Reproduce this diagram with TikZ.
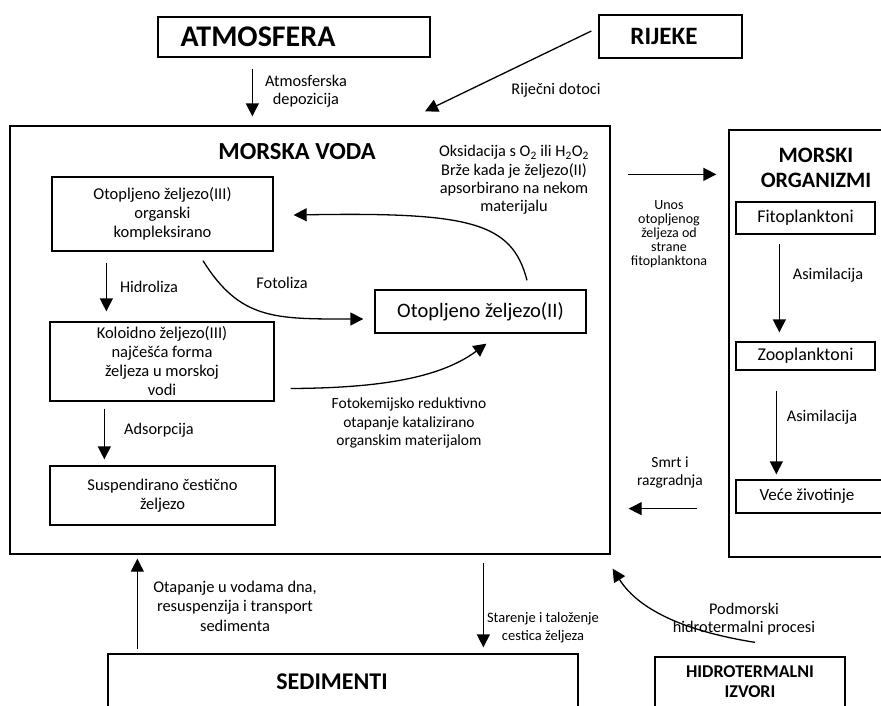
\documentclass[tikz,border=0pt]{standalone}
\usepackage{fontspec}
\setmainfont{Carlito}
\usetikzlibrary{arrows.meta,calc}
\begin{document}
\begin{tikzpicture}[x=1pt,y=-1pt,
  box/.style={draw,line width=1.3pt,inner sep=0pt,align=center},
  boxtext/.style={font=\fontsize{16.5}{19}\selectfont},
  ttl/.style={inner sep=0pt,align=center,font=\bfseries\fontsize{#1}{#1}\selectfont},
  ttl/.default=24,
  lbl/.style={align=center,inner sep=0pt,font=\fontsize{16.3}{18.5}\selectfont},
  small/.style={align=center,inner sep=0pt,font=\fontsize{14}{14}\selectfont},
  arr/.style={line width=1.3pt,-{Triangle[width=13pt,length=13pt]}}]
\useasboundingbox (0,0) rectangle (881,705);
\clip (0,0) rectangle (881,705);

% boxes
\node[box,minimum width=272pt,minimum height=40pt] (atm) at (294,37) {};
\node[ttl=30] (atmT) at (258,37) {ATMOSFERA};
\node[box,minimum width=143pt,minimum height=43pt] (rij) at (670.5,36.5) {};
\node[ttl=25] (rijT) at (664,36) {RIJEKE};
\node[box,minimum width=600pt,minimum height=428pt] (voda) at (310,340) {};
\node[ttl=24.5] (vodaT) at (297,152) {MORSKA VODA};
\node[box,minimum width=166pt,minimum height=427pt] (morg) at (812,343.5) {};
\node[ttl=22,font=\bfseries\fontsize{22}{25}\selectfont] (morgT) at (816,168) {MORSKI\\ORGANIZMI};
\node[box,font=\fontsize{18}{20}\selectfont,minimum width=139pt,minimum height=32pt] (fito) at (805.5,218) {Fitoplanktoni};
\node[box,font=\fontsize{18}{20}\selectfont,minimum width=139pt,minimum height=28pt] (zoo) at (805.5,356) {Zooplanktoni};
\node[box,minimum width=154pt,minimum height=33pt] (vece) at (813,496.5) {};
\node[font=\fontsize{17}{20}\selectfont,inner sep=0pt] (veceT) at (807,496.5) {Veće životinje};

\node[box,boxtext,minimum width=221pt,minimum height=74pt] (b1) at (162.5,214) {Otopljeno željezo(III)\\organski\\kompleksirano};
\node[box,boxtext,minimum width=224pt,minimum height=79pt] (b2) at (162,361.5) {Koloidno željezo(III)\\najčešća forma\\željeza u morskoj\\vodi};
\node[box,boxtext,minimum width=225pt,minimum height=59pt] (b3) at (162.5,495.5) {Suspendirano čestično\\željezo};
\node[box,font=\fontsize{20.5}{22}\selectfont,minimum width=211pt,minimum height=43pt] (b4) at (480.5,311.5) {Otopljeno željezo(II)};

\node[box,minimum width=470pt,minimum height=66pt] (sed) at (343,687) {};
\node[ttl=24] (sedT) at (332,682) {SEDIMENTI};
\node[box,minimum width=190pt,minimum height=63pt] (hyd) at (750,688.5) {};
\node[ttl=18,font=\bfseries\fontsize{18}{20}\selectfont] (hydT) at (750,682) {HIDROTERMALNI\\IZVORI};

% arrows
\draw[arr] ($(atm.south west)+(95,11)$) -- ($(voda.north west)+(243,-9)$);
\node[lbl] (l1) at (306,91) {Atmosferska\\depozicija};
\draw[arr] ($(rij.west)+(-7,-5.5)$) -- ($(voda.north)+(115,-14)$);
\node[lbl] (l2) at (556,90) {Riječni dotoci};

\draw[arr] ($(b1.south west)+(55,11)$) -- ($(b2.north west)+(57,-10)$);
\node[lbl] (l3) at (149,287) {Hidroliza};
\draw[arr] ($(b2.south west)+(55,7)$) -- ($(b3.north west)+(55,-6)$);
\node[lbl] (l4) at (159,430) {Adsorpcija};

\draw[arr] ($(b1.south)+(40.5,9)$) .. controls (240,320) and (275,319) .. ($(b4.west)+(-11,7.5)$);
\node[lbl] (l5) at (282,283) {Fotoliza};

\draw[arr] ($(b4.north)+(46.5,-9)$) .. controls (512,222) and (470,212) .. ($(b1.east)+(20,1)$);
\node[lbl,font=\fontsize{16.3}{18.3}\selectfont] (l6) at (514,180) {Oksidacija s O\textsubscript{2} ili H\textsubscript{2}O\textsubscript{2}\\Brže kada je željezo(II)\\apsorbirano na nekom\\materijalu};

\draw[arr] ($(b2.east)+(16,27)$) .. controls (380,388) and (440,378) .. ($(b4.south)+(6,10)$);
\node[lbl,font=\fontsize{15.5}{18.5}\selectfont] (l7) at (409,423) {Fotokemijsko reduktivno\\otapanje katalizirano\\organskim materijalom};

\draw[arr] ($(voda.north east)+(17,49)$) -- ($(morg.north west)+(-12,45)$);
\node[small] (l8) at (669,234) {Unos\\otopljenog\\željeza od\\strane\\fitoplanktona};

\draw[arr] ($(fito.south west)+(44,9)$) -- ($(zoo.north west)+(44,-9)$);
\node[lbl] (l9) at (828,275) {Asimilacija};
\draw[arr] ($(zoo.south west)+(41,20)$) -- ($(vece.north west)+(41,-5)$);
\node[lbl] (l10) at (822,417) {Asimilacija};

\draw[arr] ($(morg.south west)+(-31,-49)$) -- ($(voda.south east)+(18,-46)$);
\node[lbl,font=\fontsize{15.5}{18.5}\selectfont] (l11) at (670,472.5) {Smrt i\\razgradnja};

\draw[arr] ($(sed.north west)+(30,-4)$) -- ($(voda.south west)+(128,4)$);
\node[lbl,font=\fontsize{16.4}{19.5}\selectfont] (l12) at (235,606) {Otapanje u vodama dna,\\resuspenzija i transport\\sedimenta};
\draw[arr] ($(voda.south west)+(474,8)$) -- ($(sed.north west)+(376,-6)$);
\node[lbl,font=\fontsize{14.5}{18}\selectfont] (l13) at (543,628) {Starenje i taloženje\\cestica željeza};
\draw[arr] ($(hyd.north)+(5,-14)$) .. controls (690,632) and (640,612) .. ($(voda.south east)+(2,14)$);
\node[lbl] (l14) at (744,619) {Podmorski\\hidrotermalni procesi};
\end{tikzpicture}
\end{document}
